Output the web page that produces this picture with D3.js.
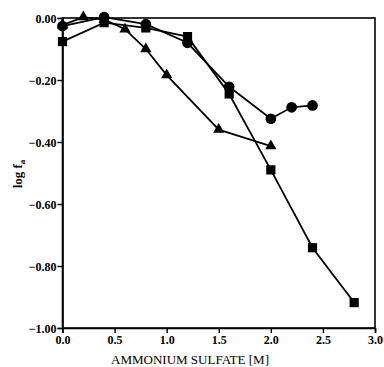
<!DOCTYPE html>
<html>
<head>
<meta charset="utf-8">
<script src="https://cdn.jsdelivr.net/npm/d3@7"></script>
<style>
body { margin: 0; background: #fff; }
text { font-family: "Liberation Serif", "DejaVu Serif", serif; }
</style>
</head>
<body>
<script>
var w = 384;
var h = 367;

var circleX = [0.0, 0.4, 0.8, 1.2, 1.6, 2.0, 2.2, 2.4];
var circleY = [-0.026, 0.003, -0.02, -0.08, -0.222, -0.325, -0.288, -0.282];
var squareX = [0.0, 0.4, 0.8, 1.2, 1.6, 2.0, 2.4, 2.8];
var squareY = [-0.076, -0.015, -0.032, -0.06, -0.245, -0.49, -0.741, -0.918];
var triX = [0.0, 0.2, 0.4, 0.6, 0.8, 1.0, 1.5, 2.0];
var triY = [-0.023, 0.003, -0.005, -0.036, -0.10, -0.184, -0.36, -0.413];
var xTicks = [0.0, 0.5, 1.0, 1.5, 2.0, 2.5, 3.0];
var yTicks = [0.0, -0.2, -0.4, -0.6, -0.8, -1.0];

var svg = d3.select("body")
    .append("svg")
    .attr("width", w)
    .attr("height", h);

var x = d3.scaleLinear().domain([0, 3]).range([62.5, 375]);
var y = d3.scaleLinear().domain([-1, 0]).range([328, 18]);

// frame
svg.append("rect")
    .attr("x", x(0))
    .attr("y", y(0))
    .attr("width", x(3) - x(0))
    .attr("height", y(-1) - y(0))
    .attr("fill", "none")
    .attr("stroke", "#000")
    .attr("stroke-width", 1.6);

var xAxis = svg.append("g")
    .attr("transform", "translate(0," + y(-1) + ")")
    .call(d3.axisBottom(x).tickValues(xTicks).tickSize(5).tickFormat(d3.format(".1f")));
var yAxis = svg.append("g")
    .attr("transform", "translate(" + x(0) + ",0)")
    .call(d3.axisLeft(y).tickValues(yTicks).tickSize(5).tickFormat(d3.format(".2f")));

[xAxis, yAxis].forEach(function (g) {
    g.select(".domain").attr("stroke-width", 1.6);
    g.selectAll(".tick line").attr("stroke-width", 1.4);
    g.selectAll("text")
        .attr("font-family", "Liberation Serif")
        .attr("font-weight", "bold")
        .attr("font-size", "12px")
        .attr("fill", "#000");
});
xAxis.selectAll("text").attr("y", 7).attr("dy", "0.71em");
yAxis.selectAll("text").attr("x", -6).attr("dy", "0.35em");

var line = d3.line()
    .x(function (d) { return x(d[0]); })
    .y(function (d) { return y(d[1]); });

function pairs(xs, ys) {
    return xs.map(function (v, i) { return [v, ys[i]]; });
}

var series = [
    { data: pairs(triX, triY), sym: d3.symbolTriangle, size: 55 },
    { data: pairs(squareX, squareY), sym: d3.symbolSquare, size: 85 },
    { data: pairs(circleX, circleY), sym: d3.symbolCircle, size: 90 }
];

series.forEach(function (s) {
    svg.append("path")
        .datum(s.data)
        .attr("d", line)
        .attr("fill", "none")
        .attr("stroke", "#000")
        .attr("stroke-width", 1.8);
    svg.selectAll(null)
        .data(s.data)
        .enter()
        .append("path")
        .attr("d", d3.symbol().type(s.sym).size(s.size))
        .attr("transform", function (d) {
            return "translate(" + x(d[0]) + "," + y(d[1]) + ")";
        })
        .attr("fill", "#000");
});

svg.append("text")
    .attr("x", 190)
    .attr("y", 364)
    .attr("text-anchor", "middle")
    .attr("font-size", "13px")
    .text("AMMONIUM SULFATE [M]");

var yl = svg.append("text")
    .attr("transform", "translate(22,174) rotate(-90)")
    .attr("text-anchor", "middle")
    .attr("font-size", "13px")
    .attr("font-weight", "bold");
yl.append("tspan").text("log f");
yl.append("tspan").attr("font-size", "9px").attr("dy", "3").text("a");
</script>
</body>
</html>
